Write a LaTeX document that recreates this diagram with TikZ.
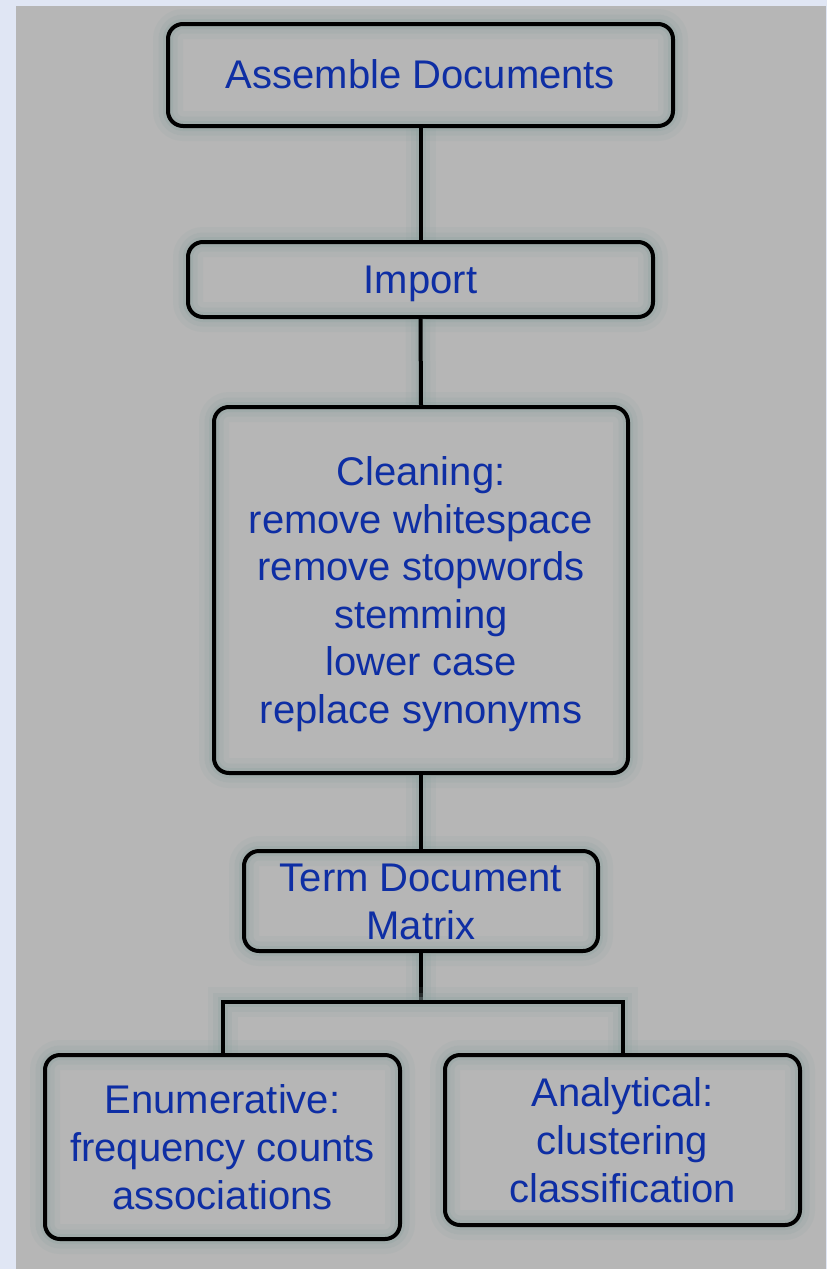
\documentclass[tikz,border=0pt]{standalone}
\usepackage{fontspec}
\setmainfont{Liberation Sans}
\definecolor{outerbg}{RGB}{224,230,244}
\definecolor{panel}{RGB}{182,182,182}
\definecolor{glow}{RGB}{140,162,160}
\definecolor{txt}{RGB}{14,46,164}
\newcommand\lowertext[2]{\raisebox{-#1}[\height][\depth]{\begin{tabular}{@{}c@{}}#2\end{tabular}}}
\tikzset{
  glowline/.style={line width=4pt, draw=black,
    preaction={draw=glow, line width=30pt, opacity=0.12},
    preaction={draw=glow, line width=19pt, opacity=0.18},
    preaction={draw=glow, line width=10pt, opacity=0.3}},
  box/.style={glowline, rectangle, rounded corners=15pt, inner sep=0pt,
    text=txt, font=\fontsize{40}{47.6}\selectfont},
  conn/.style={glowline}
}
\begin{document}
\begin{tikzpicture}[x=1pt,y=-1pt]
\useasboundingbox (0,0) rectangle (827,1269);
\fill[outerbg] (0,0) rectangle (827,1269);
\fill[panel] (16,6) rectangle (826,1269);
\coordinate (j) at (421,1002);
\node[box, minimum width=505pt, minimum height=102pt] (assemble) at (420.5,75) {\lowertext{4pt}{Assemble Documents}};
\node[box, minimum width=465pt, minimum height=75pt] (import) at (420.5,279.5) {\lowertext{4pt}{Import}};
\node[box, minimum width=414pt, minimum height=366pt] (clean) at (421,590) {\lowertext{5pt}{Cleaning:\\remove whitespace\\remove stopwords\\stemming\\lower case\\replace synonyms}};
\node[box, minimum width=354pt, minimum height=100pt] (tdm) at (421,901) {\lowertext{5pt}{Term Document\\Matrix}};
\node[box, minimum width=355pt, minimum height=184pt] (enum) at (222.5,1147) {\lowertext{5pt}{Enumerative:\\frequency counts\\associations}};
\node[box, minimum width=355pt, minimum height=170pt] (ana) at (622.5,1140) {\lowertext{5pt}{Analytical:\\clustering\\classification}};
\draw[conn] (assemble.south) -- (import.north);
\draw[conn] (import.south) -- (clean.north);
\draw[conn] (clean.south) -- (tdm.north);
\draw[conn] (tdm.south) -- (j);
\draw[conn, line join=miter] (enum.north) |- (j) -| (ana.north);
\end{tikzpicture}
\end{document}
